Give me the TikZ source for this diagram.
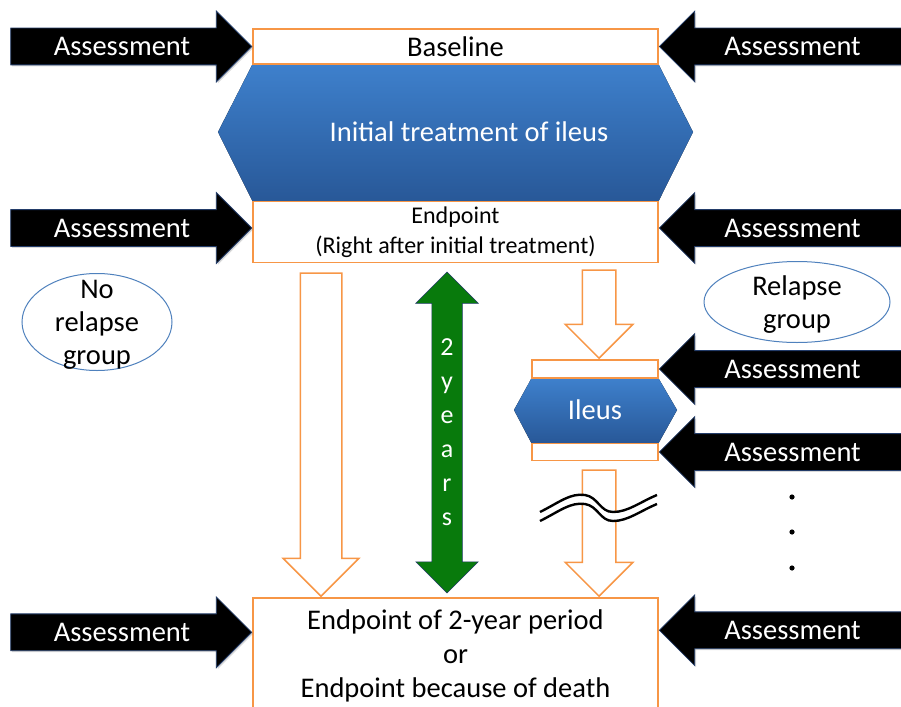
\documentclass[tikz,border=0pt]{standalone}
\usepackage{fontspec}
\setmainfont{Carlito}
\usepackage{tikz}
\usetikzlibrary{shapes.arrows,shapes.geometric,positioning,calc,backgrounds,shadows}
\usepackage{xcolor}
\definecolor{boxorange}{RGB}{247,150,70}
\definecolor{hexlight}{RGB}{62,128,204}
\definecolor{hexdark}{RGB}{40,88,152}
\definecolor{ringblue}{RGB}{79,129,189}
\definecolor{yrsgreen}{RGB}{8,122,12}
\definecolor{arrowedge}{RGB}{35,60,105}

\begin{document}
\begin{tikzpicture}[x=1pt, y=-1pt,
    stage/.style={rectangle, draw=boxorange, line width=1.5pt, fill=white, minimum width=405pt, inner sep=0pt, align=center, font=\fontsize{28.5}{34}\selectfont},
    hexfill/.style={top color=hexlight, bottom color=hexdark, draw=none},
    hextext/.style={text=white, font=\fontsize{28.5}{34}\selectfont},
    assess/.style={single arrow, anchor=tip, fill=black, draw=arrowedge, line width=0.8pt, text=white, font=\fontsize{28.5}{34}\selectfont, single arrow head extend=17pt, text height=20pt, text depth=2pt, inner ysep=7pt, inner xsep=0pt, drop shadow={shadow xshift=1.5pt, shadow yshift=-1.5pt, opacity=0.3}},
    toleft/.style={shape border rotate=180},
    hollow/.style={single arrow, anchor=tip, draw=boxorange, line width=1.5pt, fill=white, shape border rotate=270, single arrow head extend=17pt},
    years/.style={double arrow, fill=yrsgreen, draw=arrowedge, line width=0.5pt, shape border rotate=90, double arrow head extend=16pt, inner sep=15pt},
    group/.style={ellipse, draw=ringblue, line width=1pt, fill=white, inner sep=0pt},
    grouptext/.style={align=center, font=\fontsize{28.5}{33}\selectfont, yshift=-3pt}
  ]
    \useasboundingbox (0,0) rectangle (901,706);
    \clip (0,0) rectangle (901,706);

    % stage boxes
    \node[stage, minimum height=35pt] (base) at (455.5,46.5) {Baseline};
    \node[stage, minimum height=61pt, below=136pt of base, font=\fontsize{24}{30}\selectfont] (endpt) {Endpoint\\(Right after initial treatment)};
    \node[stage, minimum height=115pt, below=334pt of endpt] (final) {Endpoint of 2-year period\\or\\Endpoint because of death};
    \node[stage, minimum width=126pt, minimum height=18pt] (relTop) at (595,369) {};
    \node[stage, minimum width=126pt, minimum height=17pt, below=64pt of relTop] (relBot) {};

    % treatment blocks
    \begin{scope}[on background layer]
      \fill[hexfill] (base.south west) -- (218,132) -- (endpt.north west) -- (endpt.north east) -- (693,132) -- (base.south east) -- cycle;
      \fill[hexfill] (relTop.south west) -- (514,410) -- (relBot.north west) -- (relBot.north east) -- (677,410) -- (relTop.south east) -- cycle;
    \end{scope}
    \node[hextext] (treat) at (469,132) {Initial treatment of ileus};
    \node[hextext] (ileus) at (595,410) {Ileus};

    % assessments
    \node[assess, minimum height=241pt] (asL1) at (base.west) {Assessment};
    \node[assess, toleft, minimum height=248pt] (asR1) at (base.east) {Assessment};
    \node[assess, minimum height=241pt] (asL2) at ([yshift=4pt]endpt.west) {Assessment};
    \node[assess, toleft, minimum height=248pt] (asR2) at ([yshift=4pt]endpt.east) {Assessment};
    \node[assess, toleft, minimum height=248pt] (asR3) at (relTop.east) {Assessment};
    \node[assess, toleft, minimum height=248pt] (asR4) at (relBot.east) {Assessment};
    \node[assess, minimum height=241pt] (asL5) at ([yshift=-35pt]final.north west) {Assessment};
    \node[assess, toleft, minimum height=248pt] (asR5) at ([yshift=-33pt]final.north east) {Assessment};

    % groups
    \node[group, minimum width=150pt, minimum height=97pt, label={[grouptext]center:No\\relapse\\group}] (norel) at (97,322) {};
    \node[group, minimum width=186pt, minimum height=81pt, label={[grouptext]center:Relapse\\group}] (rel) at (797,302) {};

    % flows
    \coordinate (colL) at (321,0);
    \coordinate (colR) at (599,0);
    \node[hollow, inner sep=20pt, minimum height=323pt] (downL) at (final.north -| colL) {};
    \node[hollow, inner sep=16pt, minimum height=88pt] (downR1) at (relTop.north -| colR) {};
    \node[hollow, inner sep=16pt, minimum height=126pt] (downR2) at (final.north -| colR) {};
    \node[years, minimum height=321pt, label={[align=center, text=white, font=\fontsize{26}{34}\selectfont]center:2\\y\\e\\a\\r\\s}] (span) at (447,432.5) {};

    % break in time
    \fill[white] (540,512) .. controls (560,502) and (570,493) .. (585,495) .. controls (598,497) and (600,512) .. (613,512) .. controls (628,512) and (640,502) .. (657,495) -- (657,504) .. controls (640,511) and (628,521) .. (613,521) .. controls (600,521) and (598,506) .. (585,504) .. controls (570,502) and (560,511) .. (540,521) -- cycle;
    \foreach \dy in {0,9}
      \draw[line width=2.4pt] (540,{512+\dy}) .. controls (560,{502+\dy}) and (570,{493+\dy}) .. (585,{495+\dy}) .. controls (598,{497+\dy}) and (600,{512+\dy}) .. (613,{512+\dy}) .. controls (628,{512+\dy}) and (640,{502+\dy}) .. (657,{495+\dy});
    \foreach \y in {497,532,568}
      \fill (792,\y) circle (2.6pt);
  \end{tikzpicture}
\end{document}
